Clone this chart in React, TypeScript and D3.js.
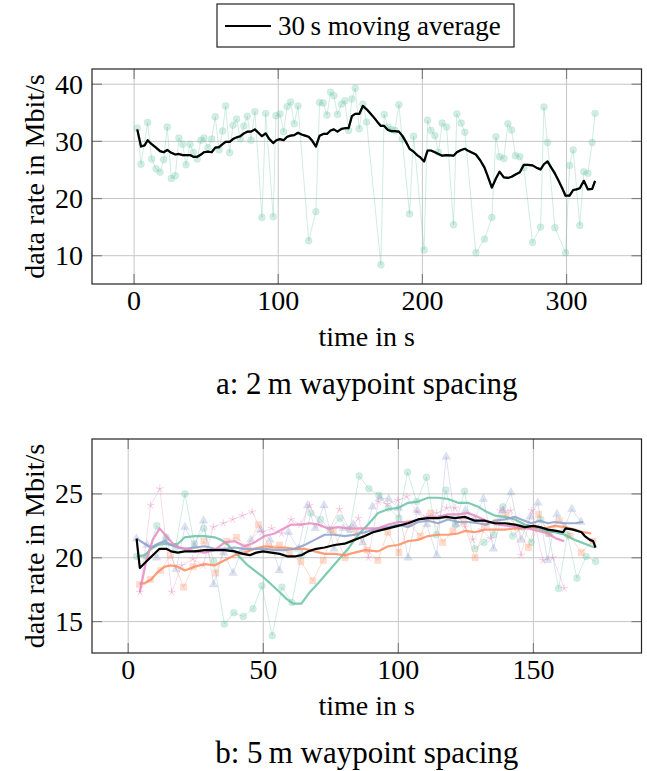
import React, { useEffect, useRef } from 'react';
import * as d3 from 'd3';

const GREEN = '#66c2a5';
const ORANGE = '#fc8d62';
const PURPLE = '#8da0cb';
const PINK = '#e78ac3';

type Pt = [number, number];

// panel a: 2 m waypoint spacing
const topRaw: Pt[] = [
  [2.2, 32.3], [4.8, 26.0], [9.4, 33.3], [12.2, 26.9], [15.2, 25.2], [18.0, 24.6], [20.5, 26.8], [23.0, 32.5],
  [25.8, 23.5], [28.6, 24.0], [31.1, 30.6], [33.7, 29.5], [36.0, 25.9], [38.8, 29.5], [41.1, 28.1], [43.8, 26.9],
  [46.4, 30.2], [48.5, 30.6], [51.2, 28.9], [53.8, 30.4], [56.3, 34.3], [58.9, 28.5], [61.4, 31.8], [63.5, 36.2],
  [66.3, 28.0], [68.6, 32.8], [71.1, 33.9], [73.7, 30.4], [76.2, 32.7], [78.5, 34.4], [81.1, 30.2], [83.8, 35.2],
  [88.7, 16.7], [91.3, 34.9], [96.5, 16.8], [98.4, 34.5], [101.2, 34.8], [103.7, 31.7], [106.2, 36.1], [108.6, 36.9],
  [111.1, 33.1], [113.7, 36.2], [121.1, 12.6], [126.1, 17.7], [128.7, 36.8], [131.2, 36.7], [133.8, 34.6], [136.3, 38.6],
  [138.6, 38.0], [141.1, 34.7], [143.9, 36.5], [146.2, 37.1], [148.8, 31.9], [151.1, 37.4], [153.4, 39.3], [156.2, 32.2],
  [158.7, 36.5], [161.3, 33.4], [171.2, 8.4], [173.5, 34.7], [176.1, 32.5], [178.6, 32.1], [180.9, 31.9], [183.7, 36.4],
  [186.0, 30.4], [191.1, 17.3], [193.9, 30.9], [201.2, 11.0], [203.6, 33.7], [205.9, 31.9], [208.7, 31.0], [211.2, 28.1],
  [213.7, 33.2], [216.8, 32.5], [221.6, 15.4], [223.9, 34.8], [226.9, 33.2], [229.5, 31.6], [237.1, 10.5], [243.1, 12.9],
  [248.2, 16.7], [251.0, 30.8], [253.5, 27.3], [256.5, 27.0], [259.3, 33.1], [261.9, 32.0], [264.6, 27.5], [267.6, 27.3],
  [270.4, 25.4], [276.4, 12.3], [282.0, 15.0], [284.3, 36.0], [286.8, 29.8], [291.9, 14.9], [299.3, 10.5], [302.1, 25.8],
  [304.6, 28.5], [309.2, 15.3], [312.0, 24.7], [314.8, 24.4], [317.8, 29.8], [319.8, 34.9],
];

const topAvg: Pt[] = [
  [2.2, 32.1], [4.8, 29.1], [7.3, 29.3], [9.4, 30.2], [12.2, 29.5], [15.2, 28.9], [18.0, 28.3], [20.5, 28.1],
  [23.0, 28.5], [25.8, 28.0], [28.6, 27.7], [31.1, 27.8], [33.7, 27.6], [36.0, 27.6], [38.8, 27.6], [41.1, 27.3],
  [43.8, 27.3], [46.4, 27.7], [48.5, 28.1], [51.2, 28.2], [53.8, 28.1], [56.3, 28.9], [58.9, 29.0], [61.4, 29.5],
  [63.5, 29.9], [66.3, 29.9], [68.6, 30.4], [71.1, 30.7], [73.7, 30.9], [76.2, 31.4], [78.5, 31.7], [81.1, 31.7],
  [83.8, 32.1], [86.2, 31.5], [88.7, 30.9], [91.3, 31.4], [93.8, 30.4], [96.5, 29.7], [98.7, 30.2], [101.2, 30.4],
  [103.7, 30.2], [106.2, 30.8], [108.6, 31.0], [111.1, 31.1], [113.7, 31.5], [116.2, 31.2], [118.6, 31.0], [121.1, 30.8],
  [123.6, 30.1], [126.1, 29.1], [128.7, 31.0], [131.2, 31.3], [133.8, 31.3], [136.3, 31.9], [138.6, 32.1], [141.1, 31.7],
  [143.9, 32.2], [146.2, 32.3], [148.8, 32.3], [151.1, 34.4], [153.4, 34.8], [156.2, 34.8], [158.7, 36.2], [161.3, 35.6],
  [163.8, 34.9], [166.3, 34.2], [168.8, 33.4], [171.2, 32.7], [173.5, 32.7], [176.1, 32.0], [178.6, 31.8], [180.9, 31.8],
  [183.7, 31.7], [186.0, 31.0], [188.4, 30.0], [191.1, 28.7], [193.9, 28.2], [196.3, 27.6], [198.6, 27.2], [201.2, 26.5],
  [203.6, 28.4], [205.9, 28.4], [208.7, 28.1], [211.2, 27.8], [213.7, 27.5], [216.8, 27.6], [221.6, 27.5], [223.9, 28.1],
  [226.9, 28.5], [229.5, 28.7], [232.1, 28.3], [237.1, 27.7], [240.1, 26.7], [243.1, 25.4], [245.5, 23.8], [248.2, 21.9],
  [251.0, 23.5], [253.5, 24.7], [256.5, 23.7], [259.3, 23.6], [261.9, 23.8], [264.6, 24.2], [267.6, 24.6], [270.4, 25.9],
  [273.1, 25.9], [276.4, 25.8], [279.1, 25.4], [282.0, 25.1], [284.3, 26.0], [286.8, 26.5], [289.4, 25.4], [291.9, 24.4],
  [294.5, 23.1], [297.0, 21.8], [299.3, 20.5], [302.1, 20.5], [304.6, 21.5], [306.9, 21.6], [309.2, 21.8], [312.0, 23.1],
  [314.8, 21.6], [317.8, 21.7], [319.8, 23.1],
];

const topXTicks = [0, 100, 200, 300];
const topYTicks = [10, 20, 30, 40];

// panel b: 5 m waypoint spacing
const greenRaw: Pt[] = [
  [3.1, 20.1], [6.8, 20.1], [10.6, 22.5], [14.0, 21.6], [17.5, 20.8], [21.0, 25.0], [24.5, 21.1], [28.0, 22.3],
  [31.7, 19.7], [35.6, 14.8], [39.1, 15.7], [42.6, 15.4], [46.2, 16.0], [49.5, 17.8], [53.3, 13.9], [56.9, 17.7],
  [60.6, 16.5], [64.1, 20.2], [67.6, 23.5], [71.2, 23.0], [74.8, 22.2], [78.4, 23.1], [82.0, 22.2], [85.5, 26.4],
  [89.1, 25.4], [92.8, 24.9], [96.4, 23.9], [100.2, 23.1], [103.4, 26.7], [106.8, 24.4], [110.4, 26.3], [114.0, 21.8],
  [117.6, 25.3], [121.1, 22.6], [124.5, 25.2], [128.3, 20.7], [131.7, 21.2], [135.3, 21.8], [138.7, 24.0], [142.3, 21.7],
  [145.8, 22.4], [149.2, 21.2], [152.7, 23.0], [155.6, 21.9], [159.3, 17.6], [162.6, 21.8], [166.1, 18.4], [169.5, 20.1],
  [173.0, 19.7],
];
const greenAvg: Pt[] = [
  [3.1, 20.1], [6.1, 20.2], [8.5, 20.7], [11, 21.0], [13.5, 21.1], [15.9, 21.0], [18.4, 21.1], [20.9, 21.6],
  [24.6, 21.7], [28.3, 21.7], [32, 21.6], [34.4, 21.4], [36.9, 21.0], [40.6, 20.2], [44.3, 19.4], [47.4, 18.9],
  [49.9, 18.5], [53, 17.9], [56.1, 17.3], [58.5, 16.8], [61, 16.4], [64.1, 16.4], [67.2, 17.3], [70.3, 18.0],
  [74, 18.9], [77.7, 19.8], [81.4, 20.7], [85.1, 21.8], [88.8, 22.6], [92.5, 23.5], [96.2, 23.8], [99.9, 23.9],
  [103.6, 24.3], [107.3, 24.4], [111, 24.7], [114.7, 24.7], [118.4, 24.6], [122.1, 24.3], [125.8, 24.3], [129.5, 24.0],
  [132.6, 23.6], [135.7, 23.3], [139.4, 23.2], [143.1, 23.0], [146.8, 22.6], [150.5, 22.4], [154.2, 22.1], [157.9, 22.0],
  [161.6, 21.8], [165.3, 21.4], [169, 21.1], [171.4, 20.9], [172.8, 20.8],
];

const orangeRaw: Pt[] = [
  [4.2, 17.9], [8.2, 18.3], [12, 19.0], [15.7, 20.2], [20.5, 17.7], [24, 19.3], [28, 21.3], [32.4, 18.8],
  [36.4, 21.3], [40.1, 21.6], [44.2, 20.8], [48.2, 22.6], [52, 20.9], [56, 21.0], [59.8, 20.3], [63.9, 19.7],
  [68.3, 18.2], [72.2, 19.8], [75.9, 22.1], [80.3, 20.0], [84.4, 22.0], [88.4, 20.6], [92.4, 19.8], [96.1, 22.0],
  [100.2, 20.4], [104.1, 22.7], [108.1, 21.7], [112, 23.5], [116.4, 21.2], [120.2, 22.1], [124.2, 22.8], [128.4, 20.0],
  [132.1, 22.6], [136.2, 22.8], [139.9, 23.4], [143.9, 22.4], [148.1, 20.8], [151.9, 23.4], [155.6, 21.9], [159.6, 22.9],
  [163.6, 21.7], [167.7, 20.4], [172, 21.3],
];
const orangeAvg: Pt[] = [
  [4.2, 18.0], [6.1, 18.0], [8.5, 18.3], [11, 18.9], [13.5, 19.3], [15.9, 19.4], [18.4, 19.3], [20.9, 19.0],
  [24.6, 19.3], [28.3, 19.5], [32, 19.4], [35.7, 19.8], [39.4, 20.2], [43.1, 20.4], [46.8, 20.7], [50.5, 20.9],
  [54.2, 20.8], [57.9, 20.8], [61.6, 20.7], [65.3, 20.7], [69, 20.5], [72.7, 20.3], [76.4, 20.3], [80.1, 20.2],
  [83.8, 20.4], [87.6, 20.6], [92.5, 20.5], [96.2, 20.9], [99.9, 21.0], [103.6, 21.3], [107.3, 21.4], [111, 21.7],
  [114.7, 21.8], [118.4, 21.8], [122.1, 21.9], [124.6, 22.1], [128.3, 22.0], [132, 22.2], [135.7, 22.2], [139.4, 22.2],
  [143.1, 22.3], [146.8, 22.3], [150.5, 22.4], [154.2, 22.3], [157.9, 22.5], [161.6, 22.4], [165.3, 22.2], [168.4, 22.0],
  [171.4, 21.9],
];

const purpleRaw: Pt[] = [
  [3.1, 21.5], [7, 21.0], [10.5, 20.0], [14, 21.5], [17.7, 19.1], [21, 22.4], [24.5, 20.9], [27.9, 22.9],
  [31.6, 17.9], [35.3, 20.4], [38.8, 18.8], [42.1, 20.6], [45.4, 21.4], [49, 22.2], [52.5, 21.4], [55.9, 19.0],
  [59.3, 22.0], [63, 20.7], [66.4, 24.1], [69.2, 22.3], [72.5, 24.1], [76.2, 20.7], [79.6, 22.3], [83.3, 22.6],
  [86.8, 21.2], [90.4, 24.0], [93.2, 24.7], [96.4, 24.6], [100, 23.9], [103.6, 20.0], [107, 23.7], [110.5, 22.6],
  [114.2, 20.2], [117.7, 27.9], [121.3, 22.6], [124.8, 23.7], [128.2, 23.0], [131.5, 24.6], [135.2, 20.7], [138.7, 23.7],
  [141.7, 25.1], [145.3, 21.4], [148.8, 23.2], [151.6, 24.3], [155.2, 19.8], [158.7, 23.4], [161.6, 22.4], [164.2, 23.8],
  [167.6, 22.8],
];
const purpleAvg: Pt[] = [
  [3.1, 21.5], [6.1, 21.1], [8.5, 20.8], [11, 21.1], [13.5, 21.3], [15.9, 21.0], [18.4, 20.8], [20.9, 20.7],
  [24.6, 20.8], [28.3, 20.9], [32, 20.7], [35.7, 20.7], [39.4, 20.8], [43.1, 20.7], [46.8, 20.7], [50.5, 20.7],
  [54.2, 20.6], [57.9, 20.6], [61.6, 20.7], [65.3, 21.0], [69, 21.4], [72.7, 21.8], [76.4, 21.8], [80.1, 21.7],
  [83.8, 21.8], [87.6, 22.0], [92.5, 22.3], [96.2, 22.4], [99.9, 22.6], [103.6, 22.4], [107.3, 22.8], [111, 22.9],
  [114.7, 22.7], [118.4, 23.0], [122.1, 22.8], [125.8, 22.8], [129.5, 22.7], [132.6, 22.6], [135.7, 22.9], [139.4, 23.0],
  [143.1, 23.2], [145.5, 23.0], [149.2, 22.7], [152.3, 22.9], [155.4, 22.7], [157.9, 22.8], [161.6, 22.7], [165.3, 22.7],
  [168.4, 22.8],
];

const pinkRaw: Pt[] = [
  [4.3, 17.3], [8.3, 24.1], [11.7, 25.4], [16.1, 17.3], [19.8, 19.4], [23.9, 19.9], [27.8, 19.4], [31.5, 22.4],
  [35.2, 22.7], [38.7, 23.0], [42.2, 23.3], [45.9, 23.6], [49.5, 22.0], [53.1, 22.3], [56.8, 21.9], [60.3, 23.0],
  [63.9, 22.6], [67.1, 24.1], [70.7, 22.6], [74.5, 22.2], [78.2, 23.8], [81.9, 22.2], [85.2, 23.1], [88.9, 20.0],
  [92.6, 24.4], [95.9, 24.2], [99.8, 24.5], [103.1, 24.8], [106.8, 23.6], [110.5, 23.2], [114.2, 23.5], [117.9, 23.9],
  [121, 23.9], [124.7, 22.4], [127.5, 21.4], [130.8, 22.2], [134.2, 21.5], [137.7, 23.7], [141.6, 23.7], [145.4, 20.2],
  [149.4, 23.7], [153.5, 19.8], [157.2, 20.0], [161.4, 17.6],
];
const pinkAvg: Pt[] = [
  [4.3, 17.3], [6.7, 19.8], [9.1, 21.4], [11.6, 22.3], [14.1, 21.7], [16.6, 21.1], [19, 20.8], [21.5, 20.7],
  [24.6, 20.5], [28.3, 20.4], [32, 20.6], [35.7, 21.2], [39.4, 21.3], [43.1, 20.9], [46.8, 21.2], [50.5, 21.7],
  [54.2, 21.9], [56.7, 22.2], [60.4, 22.6], [64.1, 22.6], [67.2, 22.7], [70.3, 22.6], [74, 22.3], [77.7, 22.4],
  [81.4, 22.3], [85.1, 22.3], [88.8, 22.3], [92.5, 22.3], [96.2, 22.6], [99.9, 22.8], [103.6, 22.8], [107.3, 23.0],
  [111, 23.2], [114.7, 23.2], [118.4, 23.4], [122.1, 23.4], [125.8, 23.5], [129.5, 23.2], [133.6, 22.8], [137, 22.6],
  [140.6, 22.5], [144.3, 22.4], [148, 22.3], [151.7, 22.1], [155.4, 21.9], [158.5, 21.5], [161.4, 21.3],
];

const allAvg: Pt[] = [
  [3.1, 21.5], [4.3, 19.2], [6.7, 19.7], [9.1, 20.2], [11.6, 20.7], [14.1, 20.7], [15.9, 20.5], [18.4, 20.4],
  [20.9, 20.5], [24.6, 20.5], [28.3, 20.6], [32, 20.6], [35.7, 20.6], [39.4, 20.5], [42.5, 20.3], [45, 20.2],
  [47.4, 20.4], [49.9, 20.5], [53, 20.4], [56.1, 20.3], [59.1, 20.1], [61.6, 20.1], [64.1, 20.2], [66.6, 20.5],
  [69.6, 20.7], [72.7, 20.8], [76.4, 21.0], [80.1, 21.1], [82.6, 21.3], [85.1, 21.5], [87.6, 21.7], [90.6, 22.0],
  [92.5, 22.1], [96.2, 22.3], [99.9, 22.5], [103.6, 22.7], [107.3, 23.0], [111, 23.1], [114.7, 23.1], [117.8, 23.2],
  [120.9, 23.1], [124.6, 23.2], [128.3, 22.9], [132, 22.9], [135.7, 22.7], [139.4, 22.7], [143.1, 22.6], [146.8, 22.4],
  [149.9, 22.5], [152.4, 22.4], [155.4, 22.2], [158.5, 22.1], [161, 22.0], [161.9, 22.3], [164.7, 22.2], [167.8, 22.0],
  [169, 21.7], [170.9, 21.4], [172.1, 21.3], [173, 20.8],
];

const botXTicks = [0, 50, 100, 150];
const botYTicks = [15, 20, 25];

const FONT = '"Liberation Serif", "Times New Roman", serif';
const FS = 28;
const CAP_FS = 31;

type Series = { raw?: Pt[]; avg: Pt[]; color: string; mark?: string };

const starPath = (r: number) => {
  let p = '';
  for (let k = 0; k < 5; k++) {
    const a = (-90 + k * 72) * Math.PI / 180;
    p += `M0,0L${(r * Math.cos(a)).toFixed(2)},${(r * Math.sin(a)).toFixed(2)}`;
  }
  return p;
};

const markPath = (mark: string) => {
  if (mark === 'square') return d3.symbol(d3.symbolSquare, 40)()!;
  if (mark === 'triangle') return d3.symbol(d3.symbolTriangle, 32)()!;
  if (mark === 'star') return starPath(4);
  return d3.symbol(d3.symbolCircle, 38)()!;
};

function drawPanel(
  svg: d3.Selection<SVGSVGElement, unknown, null, undefined>,
  box: { l: number; r: number; t: number; b: number },
  xDom: [number, number], yDom: [number, number],
  xTicks: number[], yTicks: number[],
  series: Series[], caption: string,
) {
  const x = d3.scaleLinear().domain(xDom).range([box.l, box.r]);
  const y = d3.scaleLinear().domain(yDom).range([box.b, box.t]);
  const g = svg.append('g');

  // grid
  g.selectAll('.gx').data(xTicks).enter().append('line')
    .attr('x1', d => x(d)).attr('x2', d => x(d)).attr('y1', box.t).attr('y2', box.b)
    .attr('stroke', '#c6c6c6').attr('stroke-width', 1);
  g.selectAll('.gy').data(yTicks).enter().append('line')
    .attr('y1', d => y(d)).attr('y2', d => y(d)).attr('x1', box.l).attr('x2', box.r)
    .attr('stroke', '#c6c6c6').attr('stroke-width', 1);

  const line = d3.line<Pt>().x(d => x(d[0])).y(d => y(d[1]));

  // raw measurements
  series.forEach(s => {
    if (!s.raw) return;
    g.append('path').datum(s.raw).attr('d', line)
      .attr('fill', 'none').attr('stroke', s.color).attr('stroke-width', 0.9).attr('stroke-opacity', 0.35);
    const isStar = s.mark === 'star';
    g.selectAll(null).data(s.raw).enter().append('path')
      .attr('transform', d => `translate(${x(d[0])},${y(d[1])})`)
      .attr('d', markPath(s.mark || 'circle'))
      .attr('fill', isStar ? 'none' : s.color).attr('fill-opacity', 0.3)
      .attr('stroke', s.color).attr('stroke-opacity', isStar ? 0.55 : 0.15).attr('stroke-width', 0.8);
  });

  // moving averages
  series.forEach(s => {
    const isBlack = s.color === '#000';
    g.append('path').datum(s.avg).attr('d', line)
      .attr('fill', 'none').attr('stroke', s.color)
      .attr('stroke-width', 2.2).attr('stroke-opacity', isBlack ? 1 : 0.85)
      .attr('stroke-linejoin', 'round');
  });

  // tick marks (inside, all sides)
  const tk = 10;
  xTicks.forEach(v => {
    g.append('line').attr('x1', x(v)).attr('x2', x(v)).attr('y1', box.b).attr('y2', box.b - tk)
      .attr('stroke', '#808080').attr('stroke-width', 1.2);
    g.append('line').attr('x1', x(v)).attr('x2', x(v)).attr('y1', box.t).attr('y2', box.t + tk)
      .attr('stroke', '#808080').attr('stroke-width', 1.2);
    g.append('text').attr('x', x(v)).attr('y', box.b + 26).attr('text-anchor', 'middle')
      .attr('font-family', FONT).attr('font-size', FS).text(v);
  });
  yTicks.forEach(v => {
    g.append('line').attr('y1', y(v)).attr('y2', y(v)).attr('x1', box.l).attr('x2', box.l + tk)
      .attr('stroke', '#808080').attr('stroke-width', 1.2);
    g.append('line').attr('y1', y(v)).attr('y2', y(v)).attr('x1', box.r).attr('x2', box.r - tk)
      .attr('stroke', '#808080').attr('stroke-width', 1.2);
    g.append('text').attr('x', box.l - 9).attr('y', y(v) + 9.5).attr('text-anchor', 'end')
      .attr('font-family', FONT).attr('font-size', FS).text(v);
  });

  // frame
  g.append('rect').attr('x', box.l).attr('y', box.t).attr('width', box.r - box.l).attr('height', box.b - box.t)
    .attr('fill', 'none').attr('stroke', '#222').attr('stroke-width', 1.2);

  const cx = (box.l + box.r) / 2;
  g.append('text').attr('x', cx).attr('y', box.b + 62).attr('text-anchor', 'middle')
    .attr('font-family', FONT).attr('font-size', FS).text('time in s');
  g.append('text').attr('transform', `translate(44,${(box.t + box.b) / 2}) rotate(-90)`)
    .attr('text-anchor', 'middle').attr('font-family', FONT).attr('font-size', FS)
    .text('data rate in Mbit/s');
  g.append('text').attr('x', cx).attr('y', box.b + 110).attr('text-anchor', 'middle')
    .attr('font-family', FONT).attr('font-size', CAP_FS).text(caption);
}

const App = () => {
  const ref = useRef<SVGSVGElement>(null);
  const width = 647;
  const height = 771;

  useEffect(() => {
    const svg = d3.select(ref.current!);
    svg.selectAll('*').remove();

    drawPanel(svg, { l: 92, r: 641.5, t: 69, b: 284 }, [-29.2, 352], [5.05, 42.66],
      topXTicks, topYTicks,
      [{ raw: topRaw, avg: topAvg, color: GREEN, mark: 'circle' }, { avg: topAvg, color: '#000' }],
      'a: 2\u2009m waypoint spacing');

    drawPanel(svg, { l: 92, r: 641.5, t: 439, b: 653 }, [-13.4, 190], [12.54, 29.3],
      botXTicks, botYTicks,
      [
        { raw: greenRaw, avg: greenAvg, color: GREEN, mark: 'circle' },
        { raw: orangeRaw, avg: orangeAvg, color: ORANGE, mark: 'square' },
        { raw: purpleRaw, avg: purpleAvg, color: PURPLE, mark: 'triangle' },
        { raw: pinkRaw, avg: pinkAvg, color: PINK, mark: 'star' },
        { avg: allAvg, color: '#000' },
      ],
      'b: 5\u2009m waypoint spacing');

    // legend
    const lg = svg.append('g');
    lg.append('rect').attr('x', 217).attr('y', 4).attr('width', 297).attr('height', 43)
      .attr('fill', 'white').attr('stroke', '#222').attr('stroke-width', 1.2);
    lg.append('line').attr('x1', 225).attr('x2', 271).attr('y1', 26).attr('y2', 26)
      .attr('stroke', '#000').attr('stroke-width', 2.2);
    lg.append('text').attr('x', 278).attr('y', 35).attr('font-family', FONT).attr('font-size', 27)
      .text('30\u2009s moving average');
  }, []);

  return (
    <svg ref={ref} width={width} height={height} viewBox={`0 0 ${width} ${height}`}
      style={{ position: 'absolute', left: 0, top: 0, background: 'white' }} />
  );
};

export default App;
